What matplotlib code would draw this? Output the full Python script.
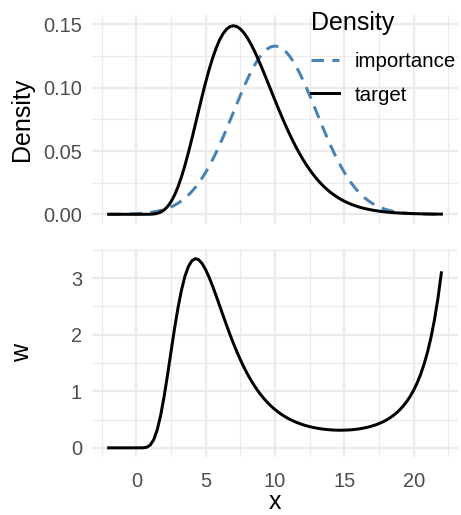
import matplotlib
matplotlib.use("Agg")
import matplotlib.pyplot as plt
from matplotlib.ticker import FixedLocator

plt.rcParams['font.family'] = ['Liberation Sans', 'DejaVu Sans']

# ---- data ----
x = [-2, -1.5, -1, -0.5, 0, 0.5, 0.75, 1, 1.25, 1.5, 1.75, 2, 2.25, 2.5, 2.75, 3,
     3.25, 3.5, 3.75, 4, 4.25, 4.5, 4.75, 5, 5.25, 5.5, 5.75, 6, 6.25, 6.5, 6.75,
     7, 7.25, 7.5, 7.75, 8, 8.25, 8.5, 8.75, 9, 9.25, 9.5, 9.75, 10, 10.25, 10.5,
     10.75, 11, 11.25, 11.5, 11.75, 12, 12.25, 12.5, 12.75, 13, 13.25, 13.5,
     13.75, 14, 14.25, 14.5, 14.75, 15, 15.25, 15.5, 15.75, 16, 16.25, 16.5,
     16.75, 17, 17.25, 17.5, 17.75, 18, 18.25, 18.5, 18.75, 19, 19.25, 19.5,
     19.75, 20, 20.25, 20.5, 20.75, 21, 21.25, 21.5, 21.75, 22]

target = [0, 0, 0, 0, 0, 0.000001, 0.0000125, 0.000073, 0.000271, 0.000757,
          0.001732, 0.003437, 0.006103, 0.00994, 0.01508, 0.0216, 0.02946,
          0.03856, 0.04866, 0.05954, 0.07088, 0.08237, 0.09364, 0.10444, 0.11446,
          0.12344, 0.13122, 0.1377, 0.14268, 0.14624, 0.14831, 0.149, 0.14834,
          0.14647, 0.14349, 0.13959, 0.13483, 0.12942, 0.12346, 0.11712, 0.11048,
          0.10372, 0.09688, 0.09008, 0.08339, 0.07689, 0.07059, 0.06457, 0.05887,
          0.05345, 0.0484, 0.04368, 0.0393, 0.03526, 0.03155, 0.02813, 0.02504,
          0.02222, 0.01968, 0.01739, 0.01533, 0.01349, 0.01184, 0.01037, 0.00906,
          0.00791, 0.00689, 0.00599, 0.0052, 0.00451, 0.0039, 0.00337, 0.00291,
          0.0025, 0.00215, 0.00185, 0.00159, 0.00136, 0.00116, 0.00099, 0.00085,
          0.00072, 0.00062, 0.00052, 0.00045, 0.00038, 0.00032, 0.00027, 0.00023,
          0.00019, 0.00016, 0.00014]

importance = [0.0000445, 0.0000858, 0.00016, 0.000291, 0.000514, 0.000883,
              0.001147, 0.001477, 0.001891, 0.002402, 0.00303, 0.003799, 0.004728,
              0.005843, 0.007173, 0.008741, 0.01058, 0.01272, 0.01518, 0.01799,
              0.02118, 0.02477, 0.02876, 0.03316, 0.03797, 0.04317, 0.04875,
              0.05467, 0.06089, 0.06733, 0.07394, 0.08066, 0.08737, 0.09398,
              0.10036, 0.10648, 0.11216, 0.11735, 0.12191, 0.12579, 0.12888,
              0.13114, 0.13252, 0.13298, 0.13252, 0.13114, 0.12888, 0.12579,
              0.12191, 0.11735, 0.11216, 0.10648, 0.10036, 0.09398, 0.08737,
              0.08066, 0.07394, 0.06733, 0.06089, 0.05467, 0.04875, 0.04317,
              0.03797, 0.03316, 0.02876, 0.02477, 0.02118, 0.01799, 0.01518,
              0.01272, 0.01058, 0.008741, 0.007173, 0.005843, 0.004728, 0.003799,
              0.00303, 0.002402, 0.001891, 0.001477, 0.001147, 0.000883, 0.000676,
              0.000514, 0.000388, 0.000291, 0.000216, 0.00016, 0.000117, 0.0000858,
              0.000062, 0.0000445]

w = [0, 0, 0, 0, 0, 0.00106, 0.0109, 0.0494, 0.1434, 0.315, 0.5718, 0.905, 1.2914,
     1.701, 2.1037, 2.471, 2.785, 3.032, 3.205, 3.308, 3.346, 3.326, 3.2566, 3.15,
     3.0147, 2.859, 2.692, 2.519, 2.3437, 2.172, 2.0057, 1.848, 1.698, 1.559,
     1.4298, 1.311, 1.202, 1.103, 1.0127, 0.931, 0.8573, 0.791, 0.7311, 0.677,
     0.6293, 0.586, 0.5477, 0.513, 0.4828, 0.4555, 0.4315, 0.41, 0.3916, 0.375,
     0.361, 0.349, 0.3387, 0.33, 0.3234, 0.318, 0.3145, 0.312, 0.3118, 0.313,
     0.3153, 0.319, 0.3253, 0.333, 0.3427, 0.355, 0.3688, 0.386, 0.4055, 0.429,
     0.4556, 0.487, 0.5235, 0.566, 0.6152, 0.673, 0.7397, 0.818, 0.9101, 1.018,
     1.146, 1.297, 1.4776, 1.692, 1.9508, 2.262, 2.6374, 3.095]

x_ticks = [0, 5, 10, 15, 20]
x_tick_labels = ['0', '5', '10', '15', '20']
top_ticks = [0.0, 0.05, 0.10, 0.15]
top_tick_labels = ['0.00', '0.05', '0.10', '0.15']
bot_ticks = [0, 1, 2, 3]
bot_tick_labels = ['0', '1', '2', '3']

W, H = 461, 515
fig = plt.figure(figsize=(W / 100, H / 100), dpi=100)

def frac(l, t, r, b):
    return [l / W, 1 - b / H, (r - l) / W, (b - t) / H]

ax1 = fig.add_axes(frac(92, 15, 458, 223.8))
ax2 = fig.add_axes(frac(92, 249.2, 458, 457.3))

grid_col = '#EBEBEB'
tick_col = '#4D4D4D'

def style(ax, yticks, ylabels, yminor, xlabels_on):
    ax.set_xlim(-3.2, 23.2)
    for s in ax.spines.values():
        s.set_visible(False)
    ax.set_facecolor('white')
    ax.xaxis.set_major_locator(FixedLocator(x_ticks))
    ax.xaxis.set_minor_locator(FixedLocator([-2.5, 2.5, 7.5, 12.5, 17.5, 22.5]))
    ax.yaxis.set_major_locator(FixedLocator(yticks))
    ax.yaxis.set_minor_locator(FixedLocator(yminor))
    ax.set_yticklabels(ylabels)
    if xlabels_on:
        ax.set_xticklabels(x_tick_labels)
    else:
        ax.set_xticklabels([])
    ax.grid(True, which='major', color=grid_col, linewidth=1.6)
    ax.grid(True, which='minor', color=grid_col, linewidth=0.9)
    ax.set_axisbelow(True)
    ax.tick_params(which='both', length=0)
    ax.tick_params(axis='y', labelsize=14.4, labelcolor=tick_col, pad=7.2)
    ax.tick_params(axis='x', labelsize=14.4, labelcolor=tick_col, pad=10.6)

# top panel
ax1.plot(x, importance, color='#4682B4', linewidth=2.15, dashes=(4.2, 2.8),
         label='importance', dash_capstyle='butt')
ax1.plot(x, target, color='black', linewidth=2.15, label='target')
ax1.set_ylim(-0.0075, 0.1575)
style(ax1, top_ticks, top_tick_labels, [0.025, 0.075, 0.125], False)
ax1.set_ylabel('Density', fontsize=18)
ax1.yaxis.set_label_coords((34 - 92) / 366, 0.5)

leg = ax1.legend(loc='upper left', bbox_to_anchor=((311 - 92) / 366, 1.02),
                 frameon=False, fontsize=14.8, title='Density',
                 title_fontsize=18, handlelength=1.35, handletextpad=0.78,
                 labelspacing=0.7, borderpad=0, borderaxespad=0,
                 alignment='left')
leg._legend_box.sep = 12.5

# bottom panel
ax2.plot(x, w, color='black', linewidth=2.15)
ax2.set_ylim(-0.1673, 3.513)
style(ax2, bot_ticks, bot_tick_labels, [0.5, 1.5, 2.5, 3.5], True)
ax2.set_ylabel('w', fontsize=18)
ax2.yaxis.set_label_coords((34 - 92) / 366, 0.5)
ax2.set_xlabel('x', fontsize=18)
ax2.xaxis.set_label_coords(0.5, -(509 - 457.3) / 208.1)
ax2.xaxis.label.set_verticalalignment('baseline')

fig.savefig('out.png', dpi=100, facecolor='white')
